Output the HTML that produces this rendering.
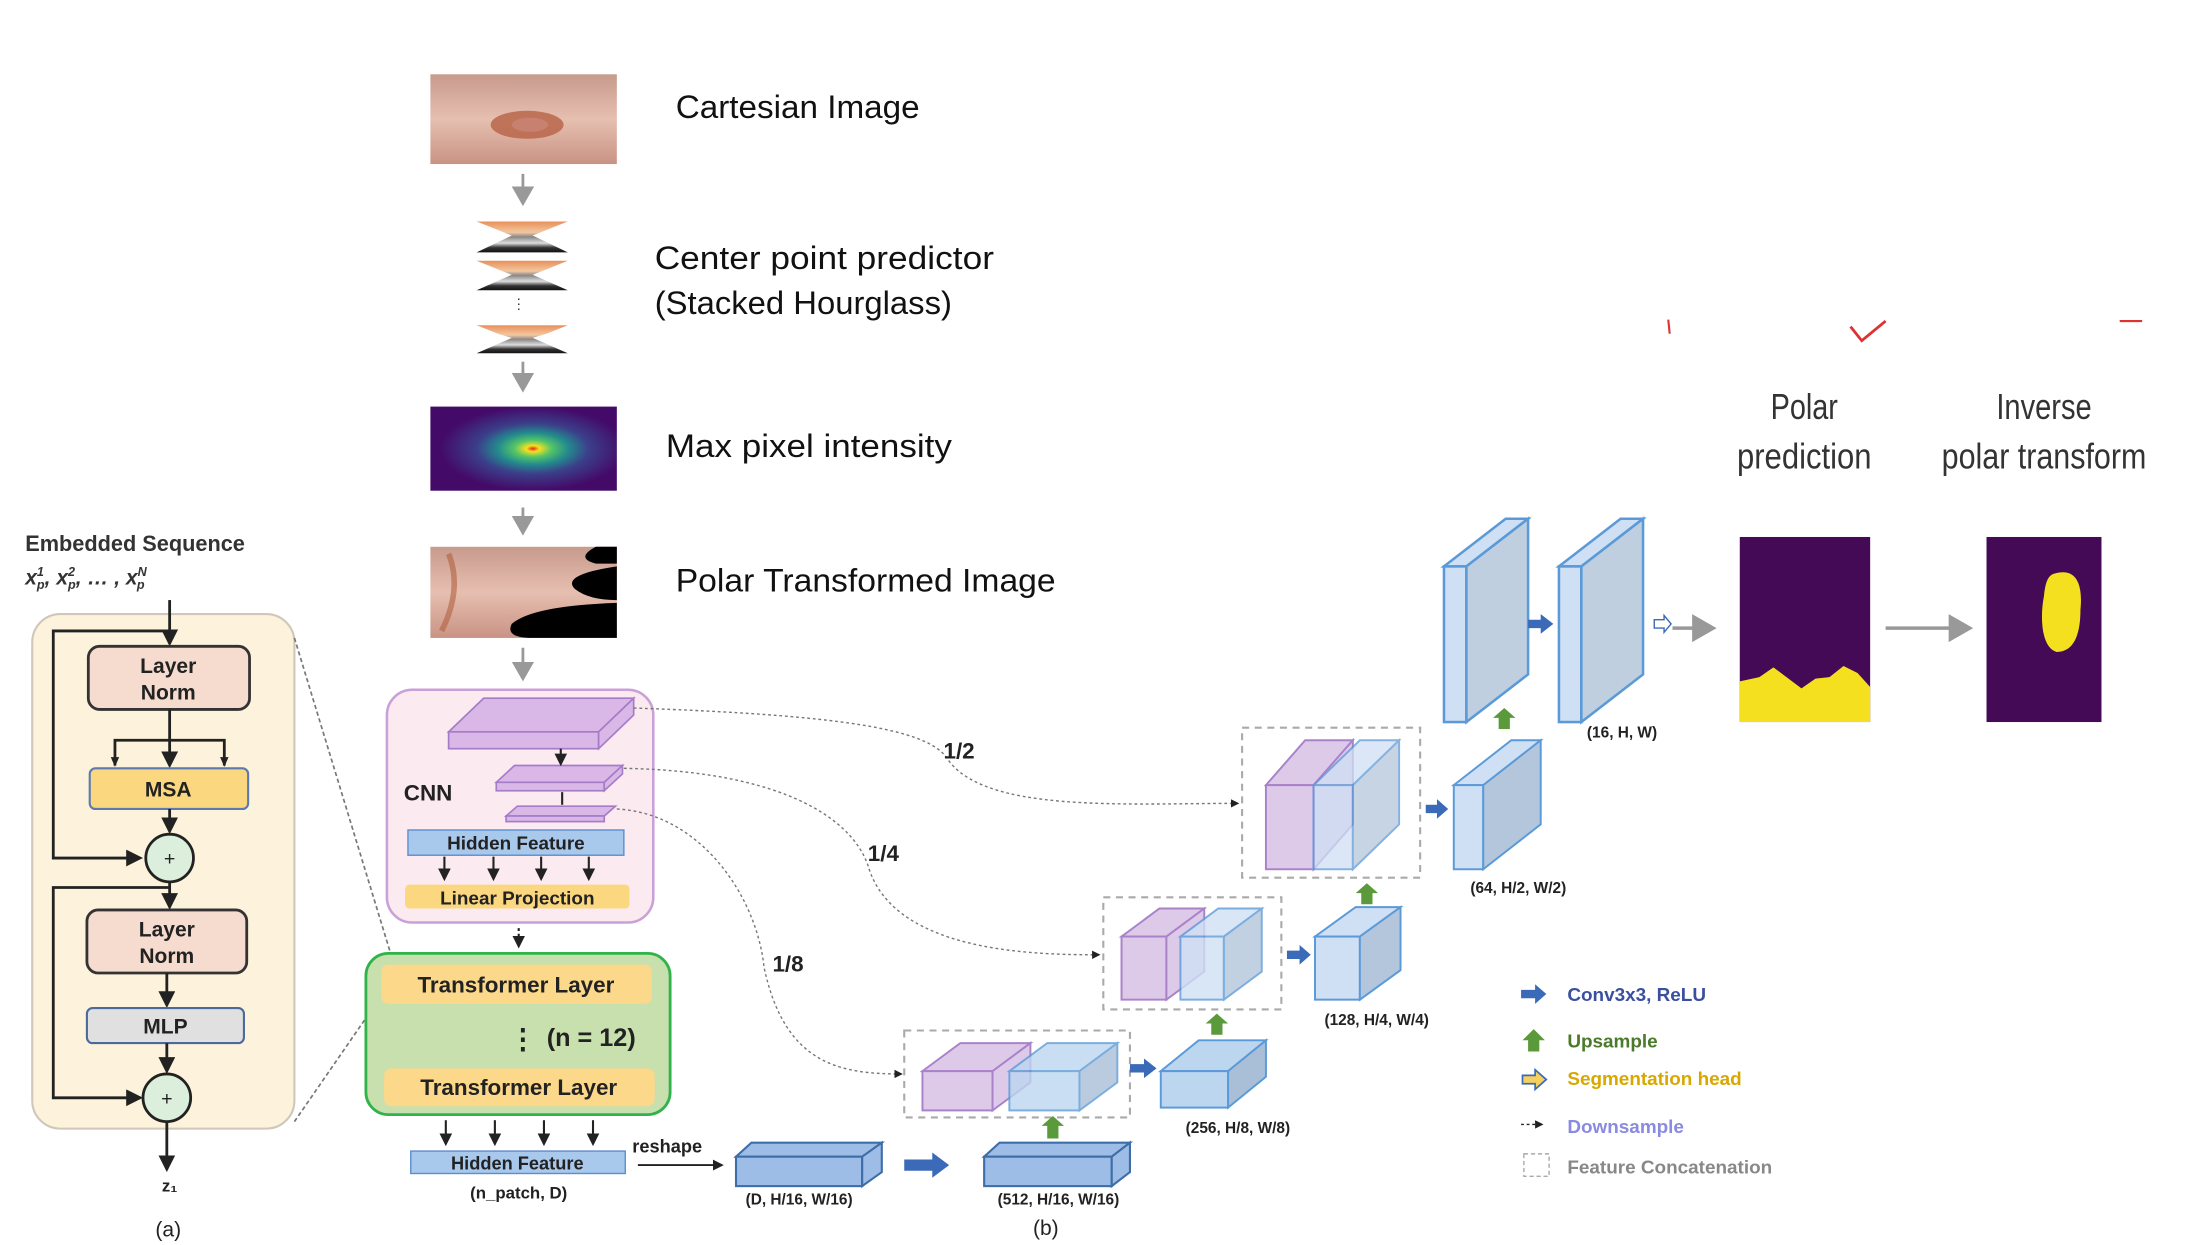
<!DOCTYPE html>
<html><head><meta charset="utf-8"><style>
html,body{margin:0;padding:0;background:#fff;}
svg{display:block;}
text{font-family:"Liberation Sans",sans-serif;}
.b{font-weight:bold;}
</style></head><body>
<svg width="2194" height="1245" viewBox="0 0 1565 888" preserveAspectRatio="none" xmlns="http://www.w3.org/2000/svg">
<defs>
<radialGradient id="hm" cx="0.55" cy="0.5" r="0.5">
<stop offset="0" stop-color="#e3261b"/><stop offset="0.07" stop-color="#f5e020"/><stop offset="0.2" stop-color="#54c567"/><stop offset="0.38" stop-color="#238a8d"/><stop offset="0.6" stop-color="#3b3f8a"/><stop offset="1" stop-color="#440a68"/>
</radialGradient>
<linearGradient id="skin" x1="0" y1="0" x2="0" y2="1"><stop offset="0" stop-color="#c79a8c"/><stop offset="0.5" stop-color="#e6bfb0"/><stop offset="1" stop-color="#c99384"/></linearGradient>
<linearGradient id="hg" x1="0" y1="0" x2="0" y2="1"><stop offset="0" stop-color="#e8905a"/><stop offset="0.35" stop-color="#f3c7a0"/><stop offset="0.5" stop-color="#888"/><stop offset="0.7" stop-color="#ddd"/><stop offset="0.85" stop-color="#333"/><stop offset="1" stop-color="#111"/></linearGradient>
<marker id="ag" markerWidth="8" markerHeight="8" refX="6" refY="4" orient="auto"><path d="M0,0 L7,4 L0,8 z" fill="#999"/></marker>
<marker id="as" markerWidth="6" markerHeight="6" refX="5" refY="3" orient="auto"><path d="M0,0 L6,3 L0,6 z" fill="#222"/></marker>
</defs>

<path d="M1190,228 L1191,238" stroke="#e03030" stroke-width="1.5"/>
<path d="M1320,233 L1328,243 L1345,229" stroke="#e03030" stroke-width="2" fill="none"/>
<path d="M1512,229 L1528,229" stroke="#e03030" stroke-width="1.5"/>

<text x="18" y="393" class="b" font-size="15.5" fill="#333">Embedded Sequence</text>
<text x="18" y="417" font-size="15" font-style="italic" font-weight="bold" font-family="Liberation Serif" fill="#333">x<tspan font-size="9" dy="-6">1</tspan><tspan font-size="9" dy="9" dx="-5">p</tspan><tspan dy="-3">, x</tspan><tspan font-size="9" dy="-6">2</tspan><tspan font-size="9" dy="9" dx="-5">p</tspan><tspan dy="-3">, … , x</tspan><tspan font-size="9" dy="-6">N</tspan><tspan font-size="9" dy="9" dx="-7">p</tspan></text>
<rect x="23" y="438" width="187" height="367" rx="20" fill="#fdf3dc" stroke="#cfc7b8" stroke-width="1.5"/>
<line x1="121" y1="428" x2="121" y2="459" stroke="#222" stroke-width="2" marker-end="url(#as)"/>
<polyline points="121,450 38,450 38,612 100,612" fill="none" stroke="#222" stroke-width="2" marker-end="url(#as)"/>
<rect x="63" y="461" width="115" height="45" rx="8" fill="#f6dccf" stroke="#333" stroke-width="2"/>
<text x="120" y="480" text-anchor="middle" class="b" font-size="15" fill="#222">Layer</text>
<text x="120" y="499" text-anchor="middle" class="b" font-size="15" fill="#222">Norm</text>
<line x1="121" y1="506" x2="121" y2="546" stroke="#222" stroke-width="2" marker-end="url(#as)"/>
<polyline points="82,546 82,528 160,528 160,546" fill="none" stroke="#222" stroke-width="2"/>
<path d="M79,540 L82,547 L85,540z M157,540 L160,547 L163,540z" fill="#222"/>
<rect x="64" y="548" width="113" height="29" rx="4" fill="#fbd77f" stroke="#5a7ab0" stroke-width="1.5"/>
<text x="120" y="568" text-anchor="middle" class="b" font-size="15" fill="#222">MSA</text>
<line x1="121" y1="577" x2="121" y2="593" stroke="#222" stroke-width="2" marker-end="url(#as)"/>
<circle cx="121" cy="612" r="17" fill="#dcefdc" stroke="#222" stroke-width="2"/>
<text x="121" y="617" text-anchor="middle" font-size="14" fill="#222">+</text>
<line x1="121" y1="629" x2="121" y2="647" stroke="#222" stroke-width="2" marker-end="url(#as)"/>
<polyline points="121,633 38,633 38,783 100,783" fill="none" stroke="#222" stroke-width="2" marker-end="url(#as)"/>
<rect x="62" y="649" width="114" height="45" rx="8" fill="#f6dccf" stroke="#333" stroke-width="2"/>
<text x="119" y="668" text-anchor="middle" class="b" font-size="15" fill="#222">Layer</text>
<text x="119" y="687" text-anchor="middle" class="b" font-size="15" fill="#222">Norm</text>
<line x1="119" y1="694" x2="119" y2="717" stroke="#222" stroke-width="2" marker-end="url(#as)"/>
<rect x="62" y="719" width="112" height="25" rx="4" fill="#e0e0e0" stroke="#4a6a9a" stroke-width="1.5"/>
<text x="118" y="737" text-anchor="middle" class="b" font-size="15" fill="#222">MLP</text>
<line x1="119" y1="744" x2="119" y2="764" stroke="#222" stroke-width="2" marker-end="url(#as)"/>
<circle cx="119" cy="783" r="17" fill="#dcefdc" stroke="#222" stroke-width="2"/>
<text x="119" y="788" text-anchor="middle" font-size="14" fill="#222">+</text>
<line x1="119" y1="800" x2="119" y2="834" stroke="#222" stroke-width="2" marker-end="url(#as)"/>
<text x="121" y="850" text-anchor="middle" class="b" font-size="12" fill="#222">z₁</text>
<text x="120" y="882" text-anchor="middle" font-size="15" fill="#222">(a)</text>
<line x1="210" y1="455" x2="278" y2="678" stroke="#777" stroke-width="1.2" stroke-dasharray="3,2"/>
<line x1="210" y1="800" x2="277" y2="703" stroke="#777" stroke-width="1.2" stroke-dasharray="3,2"/>

<rect x="307" y="53" width="133" height="64" fill="url(#skin)"/>
<ellipse cx="376" cy="89" rx="26" ry="10" fill="#b8664a" opacity="0.85"/>
<ellipse cx="378" cy="89" rx="13" ry="5" fill="#c88070"/>
<g fill="url(#hg)">
<path d="M340,158 L405,158 L390,164 L380,168 L405,180 L340,180 L365,168 L355,164z"/>
<path d="M340,186 L405,186 L390,192 L380,196 L405,207 L340,207 L365,196 L355,192z"/>
<path d="M340,232 L405,232 L390,238 L380,241 L405,252 L340,252 L365,241 L355,238z"/>
</g>
<text x="370" y="220" text-anchor="middle" font-size="10" fill="#333">⋮</text>
<rect x="307" y="290" width="133" height="60" fill="url(#hm)"/>
<rect x="307" y="390" width="133" height="65" fill="url(#skin)"/>
<path d="M320,395 Q330,420 315,450" stroke="#b06040" stroke-width="4" fill="none" opacity="0.6"/>
<path d="M440,390 L425,390 Q410,398 425,402 L440,402z M440,404 Q400,410 410,420 Q420,428 440,428z M440,430 Q380,432 365,445 Q360,455 380,455 L440,455z" fill="#000"/>
<g stroke="#999" stroke-width="2">
<line x1="373" y1="124" x2="373" y2="145" marker-end="url(#ag)"/>
<line x1="373" y1="258" x2="373" y2="278" marker-end="url(#ag)"/>
<line x1="373" y1="362" x2="373" y2="380" marker-end="url(#ag)"/>
<line x1="373" y1="462" x2="373" y2="484" marker-end="url(#ag)"/>
</g>
<g font-family="Liberation Sans" font-size="23" fill="#111" lengthAdjust="spacingAndGlyphs">
<text x="482" y="84" textLength="174" lengthAdjust="spacingAndGlyphs">Cartesian Image</text>
<text x="467" y="192" textLength="242" lengthAdjust="spacingAndGlyphs">Center point predictor</text>
<text x="467" y="224" textLength="212" lengthAdjust="spacingAndGlyphs">(Stacked Hourglass)</text>
<text x="475" y="326" textLength="204" lengthAdjust="spacingAndGlyphs">Max pixel intensity</text>
<text x="482" y="422" textLength="271" lengthAdjust="spacingAndGlyphs">Polar Transformed Image</text>
</g>

<rect x="276" y="492" width="190" height="166" rx="18" fill="#fbeaf0" stroke="#c9a0d8" stroke-width="1.8"/>
<g fill="#d9b8e8" stroke="#a67cc8" stroke-width="1.2">
<polygon points="320,522 345,498 452,498 427,522"/><rect x="320" y="522" width="107" height="12"/><polygon points="427,522 452,498 452,510 427,534"/>
<polygon points="354,558 367,546 444,546 431,558"/><rect x="354" y="558" width="77" height="6"/><polygon points="431,558 444,546 444,552 431,564"/>
<polygon points="361,582 369,575 439,575 431,582"/><rect x="361" y="582" width="70" height="4"/>
</g>
<line x1="400" y1="534" x2="400" y2="545" stroke="#222" stroke-width="1.5" marker-end="url(#as)"/>
<line x1="401" y1="565" x2="401" y2="574" stroke="#222" stroke-width="1.5"/>
<text x="288" y="571" class="b" font-size="16" fill="#222">CNN</text>
<rect x="291" y="592" width="154" height="18" fill="#a8c8ec" stroke="#5b8ed0"/>
<text x="368" y="606" text-anchor="middle" class="b" font-size="13.5" fill="#222">Hidden Feature</text>
<g stroke="#222" stroke-width="1.5">
<line x1="317" y1="611" x2="317" y2="627" marker-end="url(#as)"/><line x1="352" y1="611" x2="352" y2="627" marker-end="url(#as)"/>
<line x1="386" y1="611" x2="386" y2="627" marker-end="url(#as)"/><line x1="420" y1="611" x2="420" y2="627" marker-end="url(#as)"/>
</g>
<rect x="289" y="631" width="160" height="17" rx="3" fill="#fbd77f"/>
<text x="369" y="645" text-anchor="middle" class="b" font-size="13.5" fill="#222">Linear Projection</text>
<line x1="370" y1="662" x2="370" y2="675" stroke="#222" stroke-width="1.5" stroke-dasharray="2,2" marker-end="url(#as)"/>

<rect x="261" y="680" width="217" height="115" rx="16" fill="#c8dfae" stroke="#2fb34a" stroke-width="2"/>
<rect x="272" y="688" width="193" height="28" rx="5" fill="#fcd88a"/>
<text x="368" y="708" text-anchor="middle" class="b" font-size="16" fill="#222">Transformer Layer</text>
<text x="373" y="748" text-anchor="middle" class="b" font-size="20" fill="#222">⋮</text>
<text x="390" y="746" class="b" font-size="18" fill="#222">(n = 12)</text>
<rect x="274" y="762" width="193" height="27" rx="5" fill="#fcd88a"/>
<text x="370" y="781" text-anchor="middle" class="b" font-size="16" fill="#222">Transformer Layer</text>
<g stroke="#222" stroke-width="1.5">
<line x1="318" y1="799" x2="318" y2="816" marker-end="url(#as)"/><line x1="353" y1="799" x2="353" y2="816" marker-end="url(#as)"/>
<line x1="388" y1="799" x2="388" y2="816" marker-end="url(#as)"/><line x1="423" y1="799" x2="423" y2="816" marker-end="url(#as)"/>
</g>
<rect x="293" y="821" width="153" height="16" fill="#a8c8ec" stroke="#5b8ed0"/>
<text x="369" y="834" text-anchor="middle" class="b" font-size="13" fill="#222">Hidden Feature</text>
<text x="370" y="855" text-anchor="middle" class="b" font-size="12" fill="#222">(n_patch, D)</text>
<text x="451" y="822" class="b" font-size="13" fill="#222">reshape</text>
<line x1="455" y1="831" x2="515" y2="831" stroke="#222" stroke-width="1.3" marker-end="url(#as)"/>

<g fill="#9dbde6" stroke="#3e6ea8" stroke-width="1.5">
<polygon points="525,825 536,815 629,815 615,825"/><rect x="525" y="825" width="90" height="21"/><polygon points="615,825 629,815 629,836 615,846"/>
<polygon points="702,825 713,815 806,815 793,825"/><rect x="702" y="825" width="91" height="21"/><polygon points="793,825 806,815 806,836 793,846"/>
</g>
<text x="570" y="859" text-anchor="middle" class="b" font-size="11" fill="#222">(D, H/16, W/16)</text>
<text x="755" y="859" text-anchor="middle" class="b" font-size="11" fill="#222">(512, H/16, W/16)</text>
<text x="746" y="881" text-anchor="middle" font-size="15" fill="#222">(b)</text>
<path d="M645,827 L665,827 L665,822 L677,831 L665,840 L665,835 L645,835z" fill="#3a6ab8"/>

<g fill="none" stroke="#777" stroke-width="1" stroke-dasharray="2,2">
<path d="M452,505 C600,510 660,520 675,540 C700,580 800,573 883,573" marker-end="url(#as)"/>
<path d="M445,548 C560,550 610,585 620,620 C640,680 740,681 784,681" marker-end="url(#as)"/>
<path d="M440,577 C500,580 540,640 545,690 C560,760 600,766 643,766" marker-end="url(#as)"/>
</g>
<text x="673" y="541" class="b" font-size="16" fill="#222">1/2</text>
<text x="619" y="614" class="b" font-size="16" fill="#222">1/4</text>
<text x="551" y="693" class="b" font-size="16" fill="#222">1/8</text>

<g fill="none" stroke="#aaa" stroke-width="1.5" stroke-dasharray="5,4">
<rect x="645" y="735" width="161" height="62"/>
<rect x="787" y="640" width="127" height="80"/>
<rect x="886" y="519" width="127" height="107"/>
</g>
<g stroke-width="1.4">
<g fill="#dcc8e8" stroke="#a67cc8" opacity="0.95"><polygon points="658,764 685,744 735,744 708,764"/><rect x="658" y="764" width="50" height="28"/><polygon points="708,764 735,744 735,772 708,792"/></g>
<g fill="#bcd6f0" stroke="#5b9ad8" opacity="0.8"><polygon points="720,764 747,744 797,744 770,764"/><rect x="720" y="764" width="50" height="28"/><polygon points="770,764 797,744 797,772 770,792" fill="#a9bfd8"/></g>
<g fill="#bcd6f0" stroke="#5b9ad8"><polygon points="828,764 855,742 903,742 876,764"/><rect x="828" y="764" width="48" height="26"/><polygon points="876,764 903,742 903,768 876,790" fill="#a9bfd8"/></g>
<g fill="#dcc8e8" stroke="#a67cc8" opacity="0.95"><polygon points="800,668 827,648 859,648 832,668"/><rect x="800" y="668" width="32" height="45"/><polygon points="832,668 859,648 859,693 832,713"/></g>
<g fill="#cfe0f4" stroke="#5b9ad8" opacity="0.8"><polygon points="842,668 869,648 900,648 873,668"/><rect x="842" y="668" width="31" height="45"/><polygon points="873,668 900,648 900,693 873,713" fill="#b3c6dc"/></g>
<g fill="#cfe0f4" stroke="#5b9ad8"><polygon points="938,668 967,647 999,647 970,668"/><rect x="938" y="668" width="32" height="45"/><polygon points="970,668 999,647 999,692 970,713" fill="#b3c6dc"/></g>
<g fill="#dcc8e8" stroke="#a67cc8" opacity="0.95"><polygon points="903,560 931,528 965,528 937,560"/><rect x="903" y="560" width="34" height="60"/><polygon points="937,560 965,528 965,588 937,620"/></g>
<g fill="#cfe0f4" stroke="#5b9ad8" opacity="0.75"><polygon points="937,560 970,528 998,528 965,560"/><rect x="937" y="560" width="28" height="60"/><polygon points="965,560 998,528 998,588 965,620" fill="#b3c6dc"/></g>
<g fill="#cfe0f4" stroke="#5b9ad8"><polygon points="1037,560 1078,528 1099,528 1058,560"/><rect x="1037" y="560" width="21" height="60"/><polygon points="1058,560 1099,528 1099,588 1058,620" fill="#b3c6dc"/></g>
<g fill="#cfe0f4" stroke="#5b9ad8" stroke-width="1.8"><polygon points="1030,404 1074,370 1090,370 1046,404"/><rect x="1030" y="404" width="16" height="111"/><polygon points="1046,404 1090,370 1090,481 1046,515" fill="#c0cfe0"/></g>
<g fill="#cfe0f4" stroke="#5b9ad8" stroke-width="1.8"><polygon points="1112,404 1156,370 1172,370 1128,404"/><rect x="1112" y="404" width="16" height="111"/><polygon points="1128,404 1172,370 1172,481 1128,515" fill="#c0cfe0"/></g>
</g>
<g fill="#3a6ab8">
<path d="M806,759 L816,759 L816,755 L825,762 L816,769 L816,765 L806,765z"/>
<path d="M918,678 L927,678 L927,674 L935,681 L927,688 L927,684 L918,684z"/>
<path d="M1017,574 L1025,574 L1025,570 L1033,577 L1025,584 L1025,580 L1017,580z"/>
<path d="M1090,442 L1099,442 L1099,438 L1108,445 L1099,452 L1099,448 L1090,448z"/>
</g>
<g fill="#5a9a3a">
<path d="M747,812 L747,803 L743,803 L751,796 L759,803 L755,803 L755,812z"/>
<path d="M864,738 L864,730 L860,730 L868,723 L876,730 L872,730 L872,738z"/>
<path d="M971,645 L971,637 L967,637 L975,630 L983,637 L979,637 L979,645z"/>
<path d="M1069,520 L1069,512 L1065,512 L1073,505 L1081,512 L1077,512 L1077,520z"/>
</g>
<g class="b" font-size="11" fill="#222">
<text x="883" y="808" text-anchor="middle">(256, H/8, W/8)</text>
<text x="982" y="731" text-anchor="middle">(128, H/4, W/4)</text>
<text x="1083" y="637" text-anchor="middle">(64, H/2, W/2)</text>
<text x="1157" y="526" text-anchor="middle">(16, H, W)</text>
</g>
<path d="M1180,442 L1187,442 L1187,439 L1192,445 L1187,451 L1187,448 L1180,448z" fill="#fff" stroke="#3a6ab8" stroke-width="1"/>
<line x1="1193" y1="448" x2="1222" y2="448" stroke="#999" stroke-width="2.5" marker-end="url(#ag)"/>
<line x1="1345" y1="448" x2="1405" y2="448" stroke="#999" stroke-width="2.5" marker-end="url(#ag)"/>

<rect x="1241" y="383" width="93" height="132" fill="#440a55"/>
<path d="M1241,486 L1255,483 L1265,476 L1273,482 L1285,491 L1295,484 L1305,483 L1315,475 L1325,480 L1334,490 L1334,515 L1241,515z" fill="#f5e020"/>
<rect x="1417" y="383" width="82" height="132" fill="#440a55"/>
<path d="M1466,409 C1480,405 1486,415 1484,435 C1484,455 1478,465 1467,465 C1456,462 1455,440 1458,425 C1459,415 1461,410 1466,409z" fill="#f5e020"/>
<g font-family="Liberation Sans Narrow, Liberation Sans, sans-serif" font-size="26" fill="#333" text-anchor="middle">
<text x="1287" y="299" textLength="48" lengthAdjust="spacingAndGlyphs">Polar</text>
<text x="1287" y="334" textLength="96" lengthAdjust="spacingAndGlyphs">prediction</text>
<text x="1458" y="299" textLength="68" lengthAdjust="spacingAndGlyphs">Inverse</text>
<text x="1458" y="334" textLength="146" lengthAdjust="spacingAndGlyphs">polar transform</text>
</g>

<path d="M1085,706 L1095,706 L1095,702 L1103,709 L1095,716 L1095,712 L1085,712z" fill="#3a6ab8"/>
<text x="1118" y="714" class="b" font-size="13.5" fill="#3a4fa0">Conv3x3, ReLU</text>
<path d="M1090,750 L1090,742 L1086,742 L1094,734 L1102,742 L1098,742 L1098,750z" fill="#5a9a3a"/>
<text x="1118" y="747" class="b" font-size="13.5" fill="#4a7a2a">Upsample</text>
<path d="M1086,767 L1095,767 L1095,763 L1103,770 L1095,777 L1095,773 L1086,773z" fill="#f3d060" stroke="#3a6ab8" stroke-width="1.2"/>
<text x="1118" y="774" class="b" font-size="13.5" fill="#d8a800">Segmentation head</text>
<line x1="1085" y1="802" x2="1100" y2="802" stroke="#222" stroke-width="1" stroke-dasharray="2,2" marker-end="url(#as)"/>
<text x="1118" y="808" class="b" font-size="13.5" fill="#8a8ae0">Downsample</text>
<rect x="1087" y="823" width="18" height="16" fill="none" stroke="#aaa" stroke-dasharray="3,2"/>
<text x="1118" y="837" class="b" font-size="13.5" fill="#888">Feature Concatenation</text>
</svg>
</body></html>
